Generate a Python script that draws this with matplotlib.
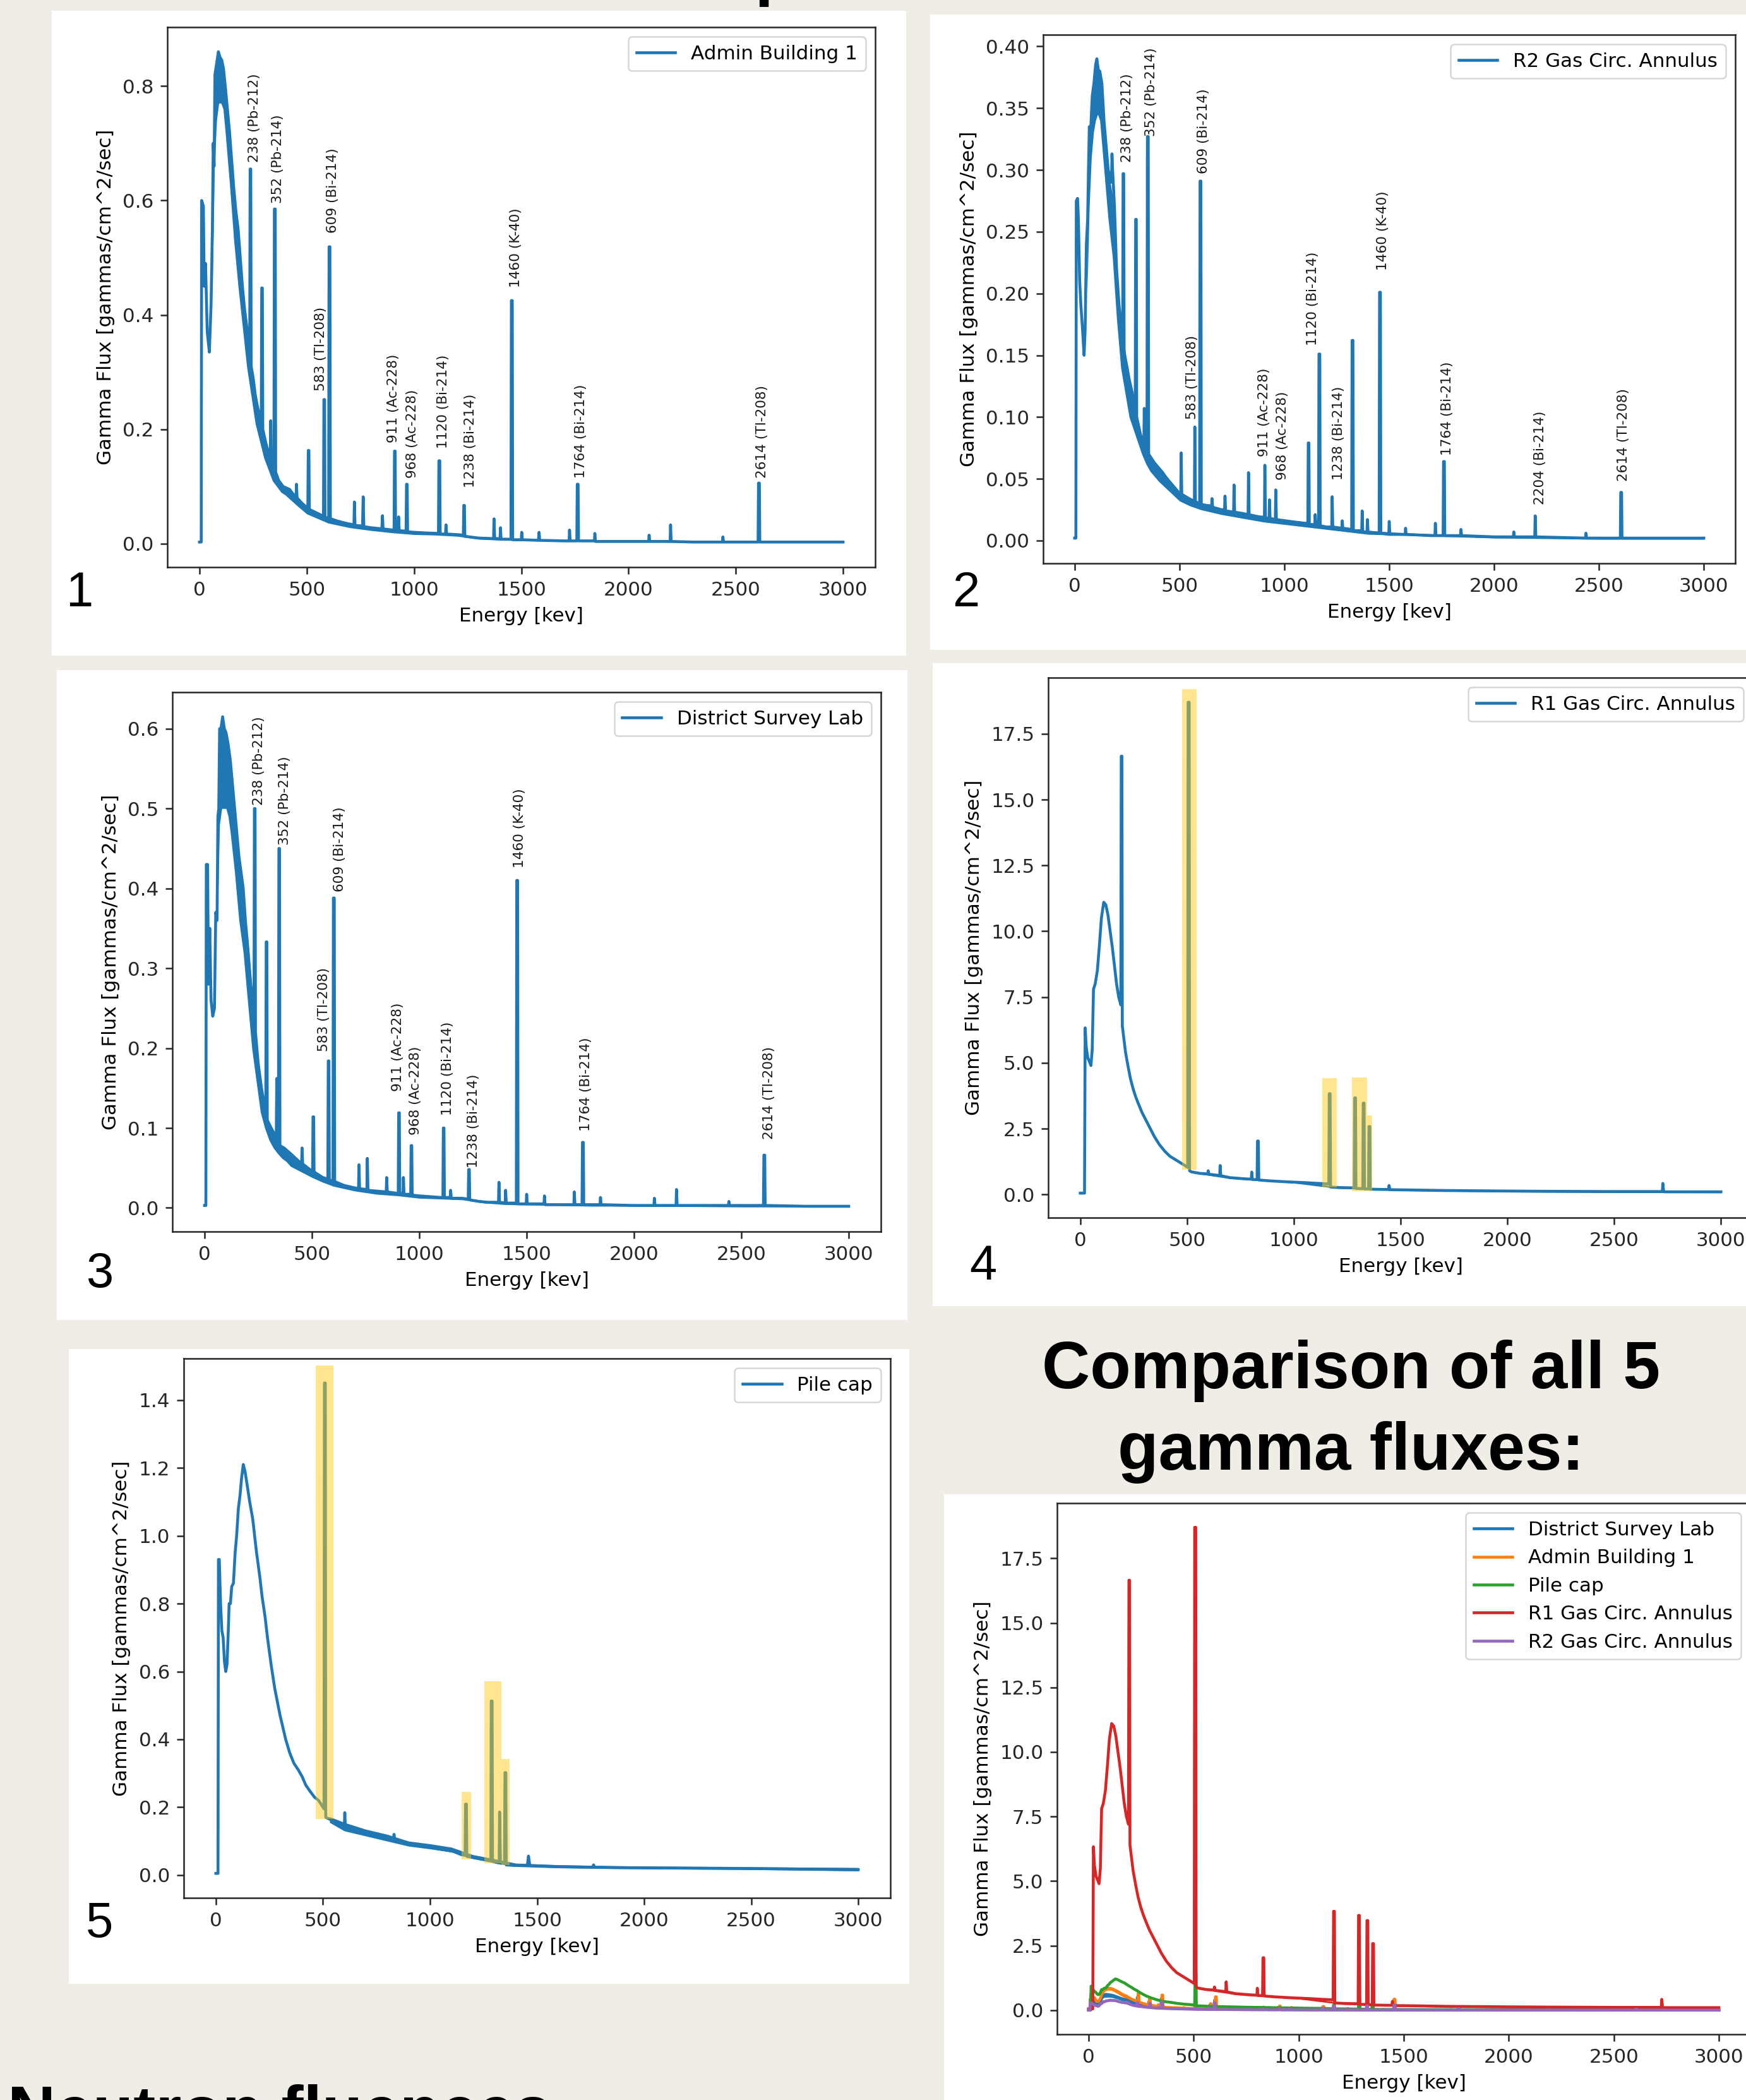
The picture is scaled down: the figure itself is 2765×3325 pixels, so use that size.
import matplotlib
matplotlib.use("Agg")
import matplotlib.pyplot as plt
from matplotlib.patches import Rectangle
from matplotlib.ticker import MultipleLocator

W, H = 2765, 3325
BG = "#f0ede6"

# ---------------------------------------------------------------- data
# (energy keV, flux) points, peaks included
admin_pts = [
    (0, 0.003), (8, 0.003), (10, 0.60), (18, 0.59), (22, 0.45), (28, 0.49), (36, 0.37),
    (46, 0.335), (54, 0.42), (60, 0.55), (64, 0.70), (68, 0.66), (72, 0.82), (80, 0.84),
    (88, 0.86), (96, 0.85), (104, 0.845), (112, 0.83), (120, 0.80), (130, 0.76), (140, 0.72),
    (150, 0.67), (160, 0.62), (170, 0.58), (180, 0.55), (190, 0.50), (200, 0.45), (210, 0.41),
    (220, 0.38), (230, 0.35), (234, 0.33), (236, 0.655), (239, 0.655), (241, 0.31),
    (250, 0.29), (260, 0.26), (270, 0.24), (282, 0.22), (288, 0.21), (290, 0.447), (293, 0.447),
    (295, 0.20), (310, 0.175), (325, 0.155), (330, 0.15), (332, 0.215), (334, 0.148),
    (347, 0.135), (349, 0.585), (353, 0.585), (355, 0.125), (370, 0.11), (390, 0.10),
    (420, 0.095), (440, 0.085), (450, 0.082), (452, 0.104), (455, 0.08), (480, 0.07),
    (505, 0.062), (507, 0.163), (510, 0.163), (512, 0.06), (540, 0.055), (578, 0.048),
    (580, 0.252), (583, 0.252), (585, 0.046), (602, 0.045), (604, 0.519), (608, 0.519),
    (610, 0.044), (640, 0.040), (680, 0.036), (720, 0.033), (722, 0.073), (725, 0.032),
    (760, 0.031), (763, 0.082), (766, 0.030), (800, 0.028), (850, 0.026), (853, 0.049),
    (856, 0.026), (900, 0.024), (907, 0.024), (909, 0.162), (912, 0.162), (914, 0.023),
    (926, 0.023), (928, 0.047), (931, 0.023), (963, 0.022), (965, 0.104), (968, 0.104),
    (970, 0.021), (1000, 0.020), (1050, 0.019), (1110, 0.018), (1114, 0.018), (1116, 0.145),
    (1120, 0.145), (1122, 0.017), (1147, 0.017), (1149, 0.033), (1152, 0.017), (1200, 0.016),
    (1230, 0.015), (1232, 0.067), (1235, 0.067), (1237, 0.013), (1280, 0.011), (1300, 0.010),
    (1371, 0.009), (1373, 0.0435), (1376, 0.009), (1401, 0.009), (1403, 0.028), (1406, 0.008),
    (1452, 0.008), (1454, 0.425), (1458, 0.425), (1460, 0.007), (1500, 0.007), (1502, 0.020),
    (1505, 0.007), (1580, 0.006), (1583, 0.020), (1586, 0.006), (1700, 0.005), (1723, 0.005),
    (1725, 0.024), (1728, 0.005), (1759, 0.005), (1761, 0.104), (1765, 0.104), (1767, 0.005),
    (1841, 0.005), (1843, 0.018), (1846, 0.004), (2000, 0.004), (2094, 0.004), (2096, 0.015),
    (2099, 0.004), (2194, 0.004), (2196, 0.033), (2199, 0.004), (2300, 0.003), (2438, 0.003),
    (2440, 0.012), (2443, 0.003), (2604, 0.003), (2606, 0.106), (2610, 0.106), (2612, 0.003),
    (2800, 0.003), (3000, 0.003),
]
# noise band (energy, low, high)
admin_band = [
    (60, 0.45, 0.55), (70, 0.66, 0.80), (80, 0.74, 0.84), (90, 0.77, 0.86), (100, 0.77, 0.85),
    (110, 0.76, 0.84), (120, 0.72, 0.80), (140, 0.63, 0.72), (160, 0.53, 0.62), (180, 0.45, 0.55),
    (200, 0.38, 0.45), (220, 0.31, 0.38), (240, 0.26, 0.32), (260, 0.21, 0.26), (280, 0.18, 0.22),
    (300, 0.15, 0.19), (320, 0.13, 0.16), (340, 0.11, 0.14), (360, 0.10, 0.12), (380, 0.09, 0.105),
    (400, 0.085, 0.10), (450, 0.068, 0.085), (500, 0.052, 0.065), (550, 0.044, 0.055),
    (600, 0.036, 0.045), (700, 0.028, 0.035), (800, 0.023, 0.029), (900, 0.019, 0.025),
    (1000, 0.016, 0.021), (1100, 0.015, 0.019), (1200, 0.013, 0.018), (1300, 0.008, 0.012),
    (1400, 0.006, 0.010), (1600, 0.005, 0.008), (1800, 0.004, 0.006), (2000, 0.003, 0.005),
    (2500, 0.002, 0.004), (3000, 0.002, 0.004),
]

r2_pts = [
    (0, 0.002), (6, 0.002), (8, 0.275), (14, 0.277), (18, 0.26), (24, 0.21), (30, 0.19),
    (38, 0.17), (45, 0.15), (50, 0.17), (56, 0.24), (62, 0.26), (66, 0.30), (70, 0.335),
    (76, 0.33), (84, 0.36), (92, 0.37), (100, 0.385), (106, 0.39), (112, 0.38), (120, 0.38),
    (130, 0.37), (140, 0.34), (150, 0.32), (160, 0.30), (176, 0.29), (178, 0.313), (181, 0.30),
    (190, 0.27), (200, 0.22), (212, 0.19), (224, 0.17), (229, 0.16), (231, 0.297), (234, 0.297),
    (236, 0.15), (250, 0.14), (270, 0.12), (285, 0.11), (289, 0.105), (291, 0.26), (294, 0.26),
    (296, 0.10), (315, 0.085), (330, 0.08), (332, 0.107), (335, 0.078), (345, 0.075),
    (347, 0.327), (351, 0.327), (353, 0.07), (380, 0.063), (420, 0.055), (460, 0.045),
    (500, 0.038), (506, 0.037), (508, 0.071), (511, 0.036), (550, 0.033), (571, 0.031),
    (573, 0.092), (576, 0.031), (596, 0.030), (598, 0.291), (602, 0.291), (604, 0.029),
    (653, 0.028), (655, 0.034), (658, 0.027), (700, 0.025), (715, 0.025), (717, 0.036),
    (720, 0.024), (758, 0.023), (760, 0.045), (763, 0.023), (800, 0.022), (827, 0.021),
    (829, 0.055), (832, 0.021), (880, 0.019), (905, 0.019), (907, 0.061), (910, 0.018),
    (927, 0.018), (929, 0.033), (932, 0.018), (957, 0.017), (959, 0.041), (962, 0.017),
    (1050, 0.015), (1100, 0.014), (1112, 0.014), (1114, 0.079), (1117, 0.079), (1119, 0.013),
    (1145, 0.013), (1147, 0.021), (1150, 0.013), (1163, 0.012), (1165, 0.151), (1169, 0.151),
    (1171, 0.012), (1200, 0.011), (1226, 0.011), (1228, 0.0355), (1231, 0.011), (1274, 0.010),
    (1276, 0.016), (1279, 0.010), (1321, 0.009), (1323, 0.162), (1327, 0.162), (1329, 0.008),
    (1369, 0.008), (1371, 0.024), (1374, 0.007), (1394, 0.007), (1396, 0.017), (1399, 0.007),
    (1452, 0.006), (1454, 0.201), (1458, 0.201), (1460, 0.006), (1498, 0.005), (1500, 0.0155),
    (1503, 0.005), (1576, 0.005), (1578, 0.010), (1581, 0.005), (1700, 0.004), (1718, 0.004),
    (1720, 0.014), (1723, 0.004), (1757, 0.004), (1759, 0.064), (1763, 0.064), (1765, 0.004),
    (1840, 0.004), (1842, 0.009), (1845, 0.004), (2000, 0.003), (2092, 0.003), (2094, 0.007),
    (2097, 0.003), (2194, 0.003), (2196, 0.020), (2199, 0.003), (2436, 0.002), (2438, 0.006),
    (2441, 0.002), (2602, 0.002), (2604, 0.039), (2608, 0.039), (2610, 0.002), (2800, 0.002),
    (3000, 0.002),
]
r2_band = [
    (60, 0.20, 0.26), (70, 0.27, 0.335), (80, 0.31, 0.36), (90, 0.33, 0.375), (100, 0.34, 0.385),
    (110, 0.345, 0.39), (120, 0.34, 0.38), (140, 0.30, 0.34), (160, 0.26, 0.30), (180, 0.23, 0.28),
    (200, 0.18, 0.22), (220, 0.14, 0.18), (240, 0.12, 0.155), (260, 0.10, 0.135), (280, 0.09, 0.12),
    (300, 0.08, 0.10), (320, 0.07, 0.085), (340, 0.062, 0.076), (360, 0.056, 0.068),
    (380, 0.052, 0.063), (400, 0.048, 0.060), (450, 0.040, 0.050), (500, 0.032, 0.040),
    (550, 0.028, 0.035), (600, 0.025, 0.031), (700, 0.021, 0.026), (800, 0.018, 0.023),
    (900, 0.015, 0.020), (1000, 0.013, 0.017), (1100, 0.011, 0.015), (1200, 0.009, 0.012),
    (1300, 0.007, 0.010), (1400, 0.005, 0.008), (1600, 0.004, 0.006), (1800, 0.003, 0.005),
    (2000, 0.002, 0.004), (2500, 0.001, 0.003), (3000, 0.001, 0.003),
]

district_pts = [
    (0, 0.003), (6, 0.003), (8, 0.43), (14, 0.43), (18, 0.28), (24, 0.35), (30, 0.26),
    (38, 0.24), (46, 0.25), (52, 0.37), (58, 0.36), (62, 0.49), (66, 0.50), (70, 0.60),
    (76, 0.60), (84, 0.615), (92, 0.60), (100, 0.595), (110, 0.58), (120, 0.56), (130, 0.53),
    (140, 0.50), (150, 0.47), (160, 0.44), (170, 0.42), (180, 0.40), (190, 0.36), (200, 0.33),
    (215, 0.28), (230, 0.24), (232, 0.50), (235, 0.50), (237, 0.22), (250, 0.18), (265, 0.15),
    (280, 0.125), (285, 0.12), (287, 0.333), (290, 0.333), (292, 0.11), (310, 0.10),
    (330, 0.09), (334, 0.088), (336, 0.162), (339, 0.080), (344, 0.080), (346, 0.45),
    (349, 0.45), (351, 0.078), (370, 0.075), (400, 0.068), (440, 0.058), (452, 0.056),
    (454, 0.075), (457, 0.055), (490, 0.048), (503, 0.046), (505, 0.114), (508, 0.114),
    (510, 0.045), (550, 0.038), (574, 0.036), (576, 0.184), (579, 0.184), (581, 0.035),
    (598, 0.034), (600, 0.388), (604, 0.388), (606, 0.033), (650, 0.028), (700, 0.025),
    (717, 0.024), (719, 0.054), (722, 0.024), (756, 0.023), (758, 0.062), (761, 0.022),
    (800, 0.021), (846, 0.020), (848, 0.038), (851, 0.020), (902, 0.018), (904, 0.119),
    (907, 0.119), (909, 0.018), (924, 0.018), (926, 0.038), (929, 0.017), (960, 0.017),
    (962, 0.078), (965, 0.078), (967, 0.016), (1000, 0.015), (1050, 0.014), (1100, 0.013),
    (1110, 0.013), (1112, 0.100), (1115, 0.100), (1117, 0.013), (1144, 0.013), (1146, 0.022),
    (1149, 0.012), (1200, 0.012), (1228, 0.011), (1230, 0.048), (1233, 0.048), (1235, 0.010),
    (1280, 0.008), (1320, 0.007), (1369, 0.007), (1371, 0.032), (1374, 0.007), (1400, 0.006),
    (1402, 0.022), (1405, 0.006), (1452, 0.006), (1454, 0.41), (1458, 0.41), (1460, 0.005),
    (1498, 0.005), (1500, 0.017), (1503, 0.005), (1581, 0.005), (1583, 0.015), (1586, 0.004),
    (1700, 0.004), (1720, 0.004), (1722, 0.020), (1725, 0.004), (1758, 0.004), (1760, 0.082),
    (1764, 0.082), (1766, 0.004), (1842, 0.004), (1844, 0.013), (1847, 0.004), (2000, 0.003),
    (2093, 0.003), (2095, 0.012), (2098, 0.003), (2196, 0.003), (2198, 0.023), (2201, 0.003),
    (2300, 0.003), (2440, 0.003), (2442, 0.008), (2445, 0.003), (2603, 0.003), (2605, 0.066),
    (2609, 0.066), (2611, 0.003), (2800, 0.002), (3000, 0.002),
]
district_band = [
    (60, 0.36, 0.49), (70, 0.48, 0.60), (80, 0.50, 0.61), (90, 0.50, 0.60), (100, 0.50, 0.595),
    (110, 0.49, 0.58), (120, 0.47, 0.56), (140, 0.42, 0.50), (160, 0.36, 0.44), (180, 0.32, 0.40),
    (200, 0.26, 0.33), (220, 0.20, 0.27), (240, 0.16, 0.21), (260, 0.12, 0.16), (280, 0.10, 0.13),
    (300, 0.085, 0.105), (320, 0.075, 0.095), (340, 0.068, 0.085), (360, 0.062, 0.078),
    (380, 0.058, 0.073), (400, 0.052, 0.068), (450, 0.045, 0.058), (500, 0.038, 0.048),
    (550, 0.032, 0.040), (600, 0.027, 0.034), (700, 0.021, 0.026), (800, 0.017, 0.022),
    (900, 0.015, 0.019), (1000, 0.012, 0.016), (1100, 0.011, 0.014), (1200, 0.010, 0.013),
    (1300, 0.006, 0.009), (1400, 0.004, 0.007), (1600, 0.003, 0.005), (1800, 0.002, 0.004),
    (2000, 0.002, 0.004), (2500, 0.001, 0.003), (3000, 0.001, 0.003),
]

r1_pts = [
    (0, 0.05), (20, 0.05), (23, 6.33), (28, 5.6), (35, 5.2), (45, 5.0), (50, 4.9), (56, 5.5),
    (62, 7.8), (70, 8.0), (80, 8.5), (90, 9.5), (99, 10.5), (110, 11.1), (120, 11.0),
    (130, 10.6), (140, 10.0), (150, 9.4), (160, 8.7), (170, 8.0), (180, 7.5), (190, 7.2),
    (192, 16.65), (195, 16.65), (197, 6.4), (203, 6.0), (212, 5.4), (223, 4.9), (235, 4.4),
    (248, 4.0), (260, 3.7), (272, 3.45), (290, 3.1), (309, 2.8), (328, 2.5), (347, 2.2),
    (370, 1.9), (396, 1.64), (420, 1.45), (446, 1.32), (470, 1.2), (490, 1.1), (503, 1.03),
    (505, 18.7), (510, 18.7), (512, 0.9), (520, 0.86), (560, 0.80), (597, 0.78), (599, 0.90),
    (602, 0.77), (630, 0.74), (653, 0.72), (655, 1.10), (658, 0.71), (700, 0.64), (760, 0.60),
    (801, 0.58), (803, 0.85), (806, 0.57), (828, 0.56), (830, 2.03), (834, 2.03), (836, 0.55),
    (880, 0.52), (965, 0.48), (1050, 0.45), (1114, 0.42), (1164, 0.40), (1166, 3.83),
    (1170, 3.83), (1172, 0.28), (1220, 0.26), (1283, 0.25), (1285, 3.67), (1289, 3.67),
    (1291, 0.23), (1323, 0.22), (1325, 3.47), (1329, 3.47), (1331, 0.21), (1350, 0.21),
    (1352, 2.58), (1356, 2.58), (1358, 0.20), (1420, 0.19), (1444, 0.19), (1446, 0.34),
    (1450, 0.18), (1550, 0.17), (1700, 0.15), (2000, 0.13), (2200, 0.12), (2500, 0.11),
    (2726, 0.11), (2728, 0.42), (2732, 0.10), (3000, 0.10),
]
r1_band = [
    (520, 0.82, 0.90), (700, 0.60, 0.68), (1000, 0.43, 0.50), (1200, 0.23, 0.30),
    (1500, 0.14, 0.21), (2000, 0.09, 0.17), (2500, 0.07, 0.15), (3000, 0.06, 0.14),
]

pile_pts = [
    (0, 0.005), (10, 0.005), (12, 0.93), (16, 0.93), (22, 0.80), (28, 0.72), (34, 0.70),
    (40, 0.63), (46, 0.60), (52, 0.62), (58, 0.72), (62, 0.80), (68, 0.80), (74, 0.85),
    (82, 0.86), (90, 0.95), (97, 1.00), (105, 1.08), (113, 1.12), (120, 1.17), (128, 1.21),
    (136, 1.19), (146, 1.15), (158, 1.10), (172, 1.05), (190, 0.95), (205, 0.88), (216, 0.82),
    (230, 0.76), (241, 0.70), (258, 0.62), (275, 0.55), (300, 0.47), (326, 0.40), (345, 0.36),
    (364, 0.33), (385, 0.31), (403, 0.29), (420, 0.265), (441, 0.246), (460, 0.23), (480, 0.22),
    (500, 0.20), (505, 0.195), (507, 1.45), (511, 1.45), (513, 0.17), (531, 0.165), (570, 0.15),
    (600, 0.145), (602, 0.184), (605, 0.14), (647, 0.134), (700, 0.125), (749, 0.115),
    (830, 0.108), (832, 0.12), (835, 0.106), (880, 0.098), (929, 0.09), (980, 0.085),
    (1032, 0.078), (1108, 0.07), (1147, 0.06), (1164, 0.058), (1166, 0.209), (1170, 0.209),
    (1172, 0.055), (1220, 0.05), (1280, 0.043), (1284, 0.042), (1286, 0.513), (1290, 0.513),
    (1292, 0.04), (1320, 0.036), (1323, 0.036), (1325, 0.186), (1329, 0.035), (1348, 0.034),
    (1350, 0.302), (1354, 0.302), (1356, 0.03), (1391, 0.0285), (1440, 0.028), (1455, 0.03),
    (1460, 0.056), (1466, 0.028), (1596, 0.025), (1760, 0.023), (1764, 0.03), (1768, 0.023),
    (1853, 0.022), (2366, 0.02), (2700, 0.018), (3000, 0.016),
]
pile_band = [
    (531, 0.155, 0.172), (600, 0.13, 0.155), (700, 0.115, 0.135),
    (800, 0.10, 0.12), (900, 0.085, 0.10), (1000, 0.077, 0.092), (1100, 0.068, 0.082),
    (1200, 0.048, 0.06), (1300, 0.036, 0.048), (1400, 0.025, 0.035), (1600, 0.021, 0.03),
    (2000, 0.018, 0.026), (2500, 0.016, 0.024), (3000, 0.012, 0.022),
]

# peak annotations: (label x keV, label bottom flux, text)
common_lbls = ["238 (Pb-212)", "352 (Pb-214)", "583 (Tl-208)", "609 (Bi-214)",
               "911 (Ac-228)", "968 (Ac-228)", "1120 (Bi-214)", "1238 (Bi-214)",
               "1460 (K-40)", "1764 (Bi-214)"]
admin_lbl_x = [256, 364, 564, 620, 905, 992, 1136, 1262, 1474, 1777, 2623]
admin_lbl_y = [0.667, 0.595, 0.267, 0.543, 0.177, 0.115, 0.167, 0.098, 0.448, 0.115, 0.115]
admin_lbl_txt = common_lbls + ["2614 (Tl-208)"]

r2_lbl_x = [249, 366, 561, 616, 905, 990, 1135, 1259, 1471, 1776, 2219, 2618]
r2_lbl_y = [0.306, 0.327, 0.098, 0.297, 0.068, 0.049, 0.158, 0.049, 0.219, 0.069, 0.029, 0.048]
r2_lbl_txt = common_lbls + ["2204 (Bi-214)", "2614 (Tl-208)"]

district_lbl_x = [253, 375, 556, 628, 900, 983, 1133, 1254, 1469, 1777, 2630]
district_lbl_y = [0.504, 0.454, 0.196, 0.396, 0.146, 0.091, 0.116, 0.050, 0.426, 0.096, 0.086]
district_lbl_txt = common_lbls + ["2614 (Tl-208)"]

# yellow highlight boxes: (E0, E1, flux0, flux1)
r1_highlights = [(478, 545, 0.95, 19.2), (1134, 1200, 0.28, 4.41),
                 (1272, 1342, 0.125, 4.45), (1342, 1366, 0.125, 3.0)]
pile_highlights = [(467, 549, 0.165, 1.502), (1147, 1191, 0.047, 0.246),
                   (1255, 1332, 0.035, 0.572), (1332, 1373, 0.029, 0.343)]

names = {"admin": "Admin Building 1", "r2": "R2 Gas Circ. Annulus",
         "district": "District Survey Lab", "r1": "R1 Gas Circ. Annulus", "pile": "Pile cap"}

# ---------------------------------------------------------------- style
plt.rcParams.update({
    "font.family": "DejaVu Sans",
    "font.size": 22.3,
    "lines.linewidth": 3.3,
    "axes.linewidth": 1.8,
    "axes.edgecolor": "#262626",
    "axes.labelpad": 8.9,
    "xtick.major.size": 7.8, "ytick.major.size": 7.8,
    "xtick.major.width": 1.8, "ytick.major.width": 1.8,
    "xtick.major.pad": 7.8, "ytick.major.pad": 7.8,
    "xtick.color": "#262626", "ytick.color": "#262626",
    "legend.fontsize": 22.3,
    "patch.linewidth": 1.8,
})

C = ["#1f77b4", "#ff7f0e", "#2ca02c", "#d62728", "#9467bd"]
YELLOW = (1.0, 0.80, 0.08)

fig = plt.figure(figsize=(W / 100, H / 100), dpi=100, facecolor=BG)


def frac(x0, y0, x1, y1):
    return [x0 / W, 1 - y1 / H, (x1 - x0) / W, (y1 - y0) / H]


def white_box(x0, y0, x1, y1):
    l, b, w, h = frac(x0, y0, x1, y1)
    fig.add_artist(Rectangle((l, b), w, h, transform=fig.transFigure,
                             facecolor="white", edgecolor="none", lw=0, zorder=-5))


def draw_series(ax, pts, band, color, name):
    E = [p[0] for p in pts]
    F = [p[1] for p in pts]
    bE = [b[0] for b in band]
    lo = [b[1] for b in band]
    hi = [b[2] for b in band]
    ax.fill_between(bE, lo, hi, color=color, lw=0, zorder=2)
    ax.plot(E, F, color=color, label=name, zorder=2.1)


def finish(ax, ystep):
    ax.set_xlabel("Energy [kev]")
    ax.set_ylabel("Gamma Flux [gammas/cm^2/sec]")
    ax.xaxis.set_major_locator(MultipleLocator(500))
    ax.yaxis.set_major_locator(MultipleLocator(ystep))
    ax.set_xlim(ax.get_xlim())
    ax.set_ylim(ax.get_ylim())
    ax.legend(loc="upper right")


def annotate(ax, xs, ys, txts):
    for x, y, t in zip(xs, ys, txts):
        ax.text(x, y, t, rotation=90, ha="center", va="bottom", fontsize=15.6,
                color="#1a1a1a", zorder=4)


def highlight(ax, boxes):
    for e0, e1, f0, f1 in boxes:
        ax.add_patch(Rectangle((e0, f0), e1 - e0, f1 - f0, facecolor=YELLOW,
                               alpha=0.48, lw=0, zorder=3))


# white panels
white_box(82, 17, 1435, 1038)
white_box(1473, 23, 2765, 1029)
white_box(90, 1061, 1437, 2090)
white_box(1477, 1050, 2765, 2068)
white_box(109, 2136, 1440, 3141)
white_box(1495, 2366, 2765, 3325)

# panel 1
ax1 = fig.add_axes(frac(265, 43, 1386, 898))
draw_series(ax1, admin_pts, admin_band, C[0], names["admin"])
finish(ax1, 0.2)
annotate(ax1, admin_lbl_x, admin_lbl_y, admin_lbl_txt)

# panel 2
ax2 = fig.add_axes(frac(1652, 55, 2748, 892))
draw_series(ax2, r2_pts, r2_band, C[0], names["r2"])
finish(ax2, 0.05)
annotate(ax2, r2_lbl_x, r2_lbl_y, r2_lbl_txt)

# panel 3
ax3 = fig.add_axes(frac(273, 1096, 1395, 1950))
draw_series(ax3, district_pts, district_band, C[0], names["district"])
finish(ax3, 0.1)
annotate(ax3, district_lbl_x, district_lbl_y, district_lbl_txt)

# panel 4
ax4 = fig.add_axes(frac(1660, 1073, 2776, 1928))
draw_series(ax4, r1_pts, r1_band, C[0], names["r1"])
finish(ax4, 2.5)
highlight(ax4, r1_highlights)

# panel 5
ax5 = fig.add_axes(frac(291, 2151, 1410, 3005))
draw_series(ax5, pile_pts, pile_band, C[0], names["pile"])
finish(ax5, 0.2)
highlight(ax5, pile_highlights)

# panel 6: comparison
ax6 = fig.add_axes(frac(1674, 2380, 2772, 3221))
for (pts, band, key), col in zip([(district_pts, district_band, "district"),
                                  (admin_pts, admin_band, "admin"),
                                  (pile_pts, pile_band, "pile"),
                                  (r1_pts, r1_band, "r1"),
                                  (r2_pts, r2_band, "r2")], C):
    draw_series(ax6, pts, band, col, names[key])
finish(ax6, 2.5)

# slide texts
num_font = dict(family="Liberation Sans", fontsize=56, color="black",
                ha="center", va="baseline")
for txt, x, y in [("1", 126, 960), ("2", 1530, 960), ("3", 158, 2038),
                  ("4", 1557, 2026), ("5", 158, 3067)]:
    fig.text(x / W, 1 - y / H, txt, **num_font)

title_font = dict(family="Liberation Sans", fontsize=76, fontweight="bold",
                  color="black", va="baseline")
fig.text(2139 / W, 1 - 2198 / H, "Comparison of all 5", ha="center", **title_font)
fig.text(2139 / W, 1 - 2327 / H, "gamma fluxes:", ha="center", **title_font)
# slide headings that run past the top and bottom edges, as in the reference
fig.text(504 / W, 1 + 11 / H, "Gamma flux spectra:", ha="left", **title_font)
fig.text(12 / W, 1 - 3377 / H, "Neutron fluences", ha="left", **title_font)

fig.savefig("out.png", dpi=100, facecolor=BG)
